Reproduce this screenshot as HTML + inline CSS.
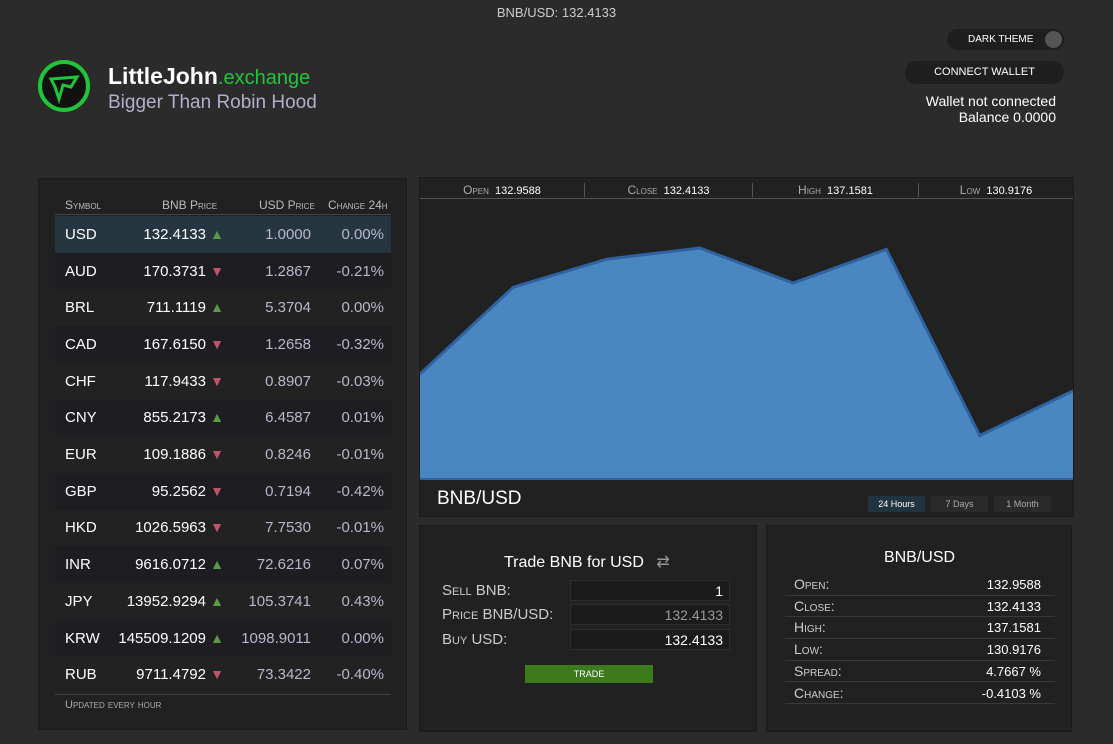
<!DOCTYPE html>
<html><head><meta charset="utf-8">
<style>
*{box-sizing:border-box;margin:0;padding:0}
body{width:1113px;height:744px;background:#2b2b2b;font-family:"Liberation Sans",sans-serif;color:#fff;position:relative;overflow:hidden}
.abs{position:absolute}
.panel{position:absolute;background:#212121;border:1px solid #1a1a1a}
.sc{font-variant:small-caps}
.row{position:absolute;left:55px;width:336px;height:36.7px;font-size:15px;display:flex;align-items:center}
.row span{position:absolute}
.up{color:#5a9a4a;font-size:14px}
.dn{color:#c0546a;font-size:14px}
.stat{position:absolute;left:785px;width:270px;height:21.6px;border-bottom:1px solid #3a3a3a;font-size:13px}
</style></head><body>
<div class="abs" style="left:0;width:1113px;top:5px;text-align:center;font-size:13px;color:#ccc">BNB/USD: 132.4133</div>
<svg class="abs" style="left:37px;top:59px" width="54" height="54"><circle cx="27" cy="27" r="24" fill="#111" stroke="#22c53a" stroke-width="4"/><path d="M14 20 L40 18 L34 28 L26 26 L22 40 L18 28 Z" fill="none" stroke="#22c53a" stroke-width="3"/></svg>
<div class="abs" style="left:108px;top:63px;font-size:23px;font-weight:bold">LittleJohn<span style="color:#22c53a;font-weight:normal;font-size:20px">.exchange</span></div>
<div class="abs" style="left:108px;top:92px;font-size:19px;color:#b0b0cc">Bigger Than Robin Hood</div>
<div class="abs" style="left:947px;top:29px;width:117px;height:21px;background:#1e1e1e;border-radius:11px;font-size:10px;line-height:21px;padding-left:21px">DARK THEME<span class="abs" style="right:2px;top:2px;width:17px;height:17px;border-radius:50%;background:#555"></span></div>
<div class="abs" style="left:905px;top:61px;width:159px;height:23px;background:#1e1e1e;border-radius:12px;font-size:11px;line-height:23px;text-align:center">CONNECT WALLET</div>
<div class="abs" style="right:57px;top:93px;font-size:14px;text-align:right;line-height:16px">Wallet not connected<br>Balance 0.0000</div>

<div class="panel" style="left:38px;top:178px;width:369px;height:552px"></div>
<div class="abs sc" style="left:55px;top:198px;width:336px;height:17px;border-bottom:1px solid #444;font-size:12px;color:#bbb">
<span class="abs" style="left:10px">Symbol</span><span class="abs" style="left:107px">BNB Price</span><span class="abs" style="left:204px">USD Price</span><span class="abs" style="left:273px">Change 24h</span></div>
<div id="rows"></div>
<div class="abs" style="left:55px;top:694px;width:336px;border-top:1px solid #444;padding:4px 10px;font-size:11px;color:#aaa;font-variant:small-caps">Updated every hour</div>

<div class="panel" style="left:419px;top:177px;width:655px;height:340px"></div>
<div class="abs" style="left:420px;top:178px;width:653px;height:21px;border-bottom:1px solid #555;font-size:11px">
<div class="abs" style="left:0;width:164px;text-align:center;top:5px"><span class="sc" style="color:#aaa;font-size:12px">Open</span>&nbsp; 132.9588</div>
<div class="abs" style="left:164px;width:168px;text-align:center;top:5px;border-left:1px solid #555"><span class="sc" style="color:#aaa;font-size:12px">Close</span>&nbsp; 132.4133</div>
<div class="abs" style="left:332px;width:166px;text-align:center;top:5px;border-left:1px solid #555"><span class="sc" style="color:#aaa;font-size:12px">High</span>&nbsp; 137.1581</div>
<div class="abs" style="left:498px;width:155px;text-align:center;top:5px;border-left:1px solid #555"><span class="sc" style="color:#aaa;font-size:12px">Low</span>&nbsp; 130.9176</div>
</div>
<svg class="abs" style="left:420px;top:199px" width="653" height="282" id="chart"></svg>
<div class="abs" style="left:437px;top:488px;font-size:19px">BNB/USD</div>
<div class="abs" style="left:868px;top:496px;width:57px;height:16px;background:#223340;font-size:9px;line-height:16px;text-align:center">24 Hours</div>
<div class="abs" style="left:931px;top:496px;width:57px;height:16px;background:#2a2a2a;color:#aaa;font-size:9px;line-height:16px;text-align:center">7 Days</div>
<div class="abs" style="left:994px;top:496px;width:57px;height:16px;background:#2a2a2a;color:#aaa;font-size:9px;line-height:16px;text-align:center">1 Month</div>

<div class="panel" style="left:419px;top:525px;width:338px;height:207px"></div>
<div class="abs" style="left:504px;top:552px;font-size:16px">Trade BNB for USD <span style="color:#999;margin-left:8px">⇄</span></div>
<div class="abs sc" style="left:442px;top:582px;font-size:15px;color:#ccc">Sell BNB:</div>
<div class="abs sc" style="left:442px;top:606px;font-size:15px;color:#ccc">Price BNB/USD:</div>
<div class="abs sc" style="left:442px;top:631px;font-size:15px;color:#ccc">Buy USD:</div>
<div class="abs" style="left:570px;top:580px;width:160px;height:21px;background:#1b1b1b;border:1px solid #2e2e2e;text-align:right;padding-right:6px;font-size:14px;line-height:20px">1</div>
<div class="abs" style="left:570px;top:604px;width:160px;height:21px;background:#1b1b1b;border:1px solid #2e2e2e;text-align:right;padding-right:6px;font-size:14px;line-height:20px;color:#999">132.4133</div>
<div class="abs" style="left:570px;top:629px;width:160px;height:21px;background:#1b1b1b;border:1px solid #2e2e2e;text-align:right;padding-right:6px;font-size:14px;line-height:20px">132.4133</div>
<div class="abs" style="left:525px;top:665px;width:128px;height:18px;background:#3d7a1e;font-size:9px;line-height:18px;text-align:center">TRADE</div>

<div class="panel" style="left:766px;top:525px;width:306px;height:207px"></div>
<div class="abs" style="left:767px;width:305px;top:549px;text-align:center;font-size:16px">BNB/USD</div>
<div id="stats"></div>
<script>
const symbols=["USD","AUD","BRL","CAD","CHF","CNY","EUR","GBP","HKD","INR","JPY","KRW","RUB"];
const bnbPrices=["132.4133","170.3731","711.1119","167.6150","117.9433","855.2173","109.1886","95.2562","1026.5963","9616.0712","13952.9294","145509.1209","9711.4792"];
const usdPrices=["1.0000","1.2867","5.3704","1.2658","0.8907","6.4587","0.8246","0.7194","7.7530","72.6216","105.3741","1098.9011","73.3422"];
const changes=["0.00%","-0.21%","0.00%","-0.32%","-0.03%","0.01%","-0.01%","-0.42%","-0.01%","0.07%","0.43%","0.00%","-0.40%"];
const directions=[1,0,1,0,0,1,0,0,0,1,1,1,0];
const rows=document.getElementById('rows');
symbols.forEach((s,i)=>{
 const r=document.createElement('div');r.className='row';
 
 
 r.style.top=(216+i*36.7)+'px';
 r.style.background=i==0?'#253640':(i%2?'#1e1e22':'#222');
 r.innerHTML=`<span style="right:167px">${bnbPrices[i]} <b class="${directions[i]?'up':'dn'}">${directions[i]?'▲':'▼'}</b></span><span style="left:10px">${s}</span><span style="right:80px;color:#b8b8cc">${usdPrices[i]}</span><span style="right:7px;color:#b8b8cc">${changes[i]}</span>`;
 rows.appendChild(r);
});
const statLabels=["Open:","Close:","High:","Low:","Spread:","Change:"];
const statValues=["132.9588","132.4133","137.1581","130.9176","4.7667 %","-0.4103 %"];
const st=document.getElementById('stats');
statLabels.forEach((l,i)=>{
 const d=document.createElement('div');d.className='stat';
 
 
 d.style.top=(574+i*21.7)+'px';
 d.innerHTML=`<span class="abs sc" style="left:9px;top:2px;color:#ccc;font-size:14px">${l}</span><span class="abs" style="right:14px;top:3px">${statValues[i]}</span>`;
 st.appendChild(d);
});
const prices=[127.5,133.7,135.7,136.5,134.0,136.4,123.1,126.3];
const yMin=120,yMax=140,W=653,H=280;
const x=i=>i*(W/(prices.length-1));
const y=v=>H-(v-yMin)/(yMax-yMin)*H;
const svg=document.getElementById('chart');
const pts=prices.map((v,i)=>x(i).toFixed(1)+','+y(v).toFixed(1)).join(' ');
const ns='http://www.w3.org/2000/svg';
const area=document.createElementNS(ns,'polygon');
area.setAttribute('points','0,'+H+' '+pts+' '+W+','+H);
area.setAttribute('fill','#4a86c0');


svg.appendChild(area);
const line=document.createElementNS(ns,'polyline');
line.setAttribute('points',pts);
line.setAttribute('fill','none');line.setAttribute('stroke','#2f62a0');line.setAttribute('stroke-width','3');


svg.appendChild(line);
const base=document.createElementNS(ns,'line');
base.setAttribute('x1',0);base.setAttribute('x2',W);base.setAttribute('y1',H);base.setAttribute('y2',H);
base.setAttribute('stroke','#2f62a0');base.setAttribute('stroke-width','2');


svg.appendChild(base);
</script>
</body></html>
